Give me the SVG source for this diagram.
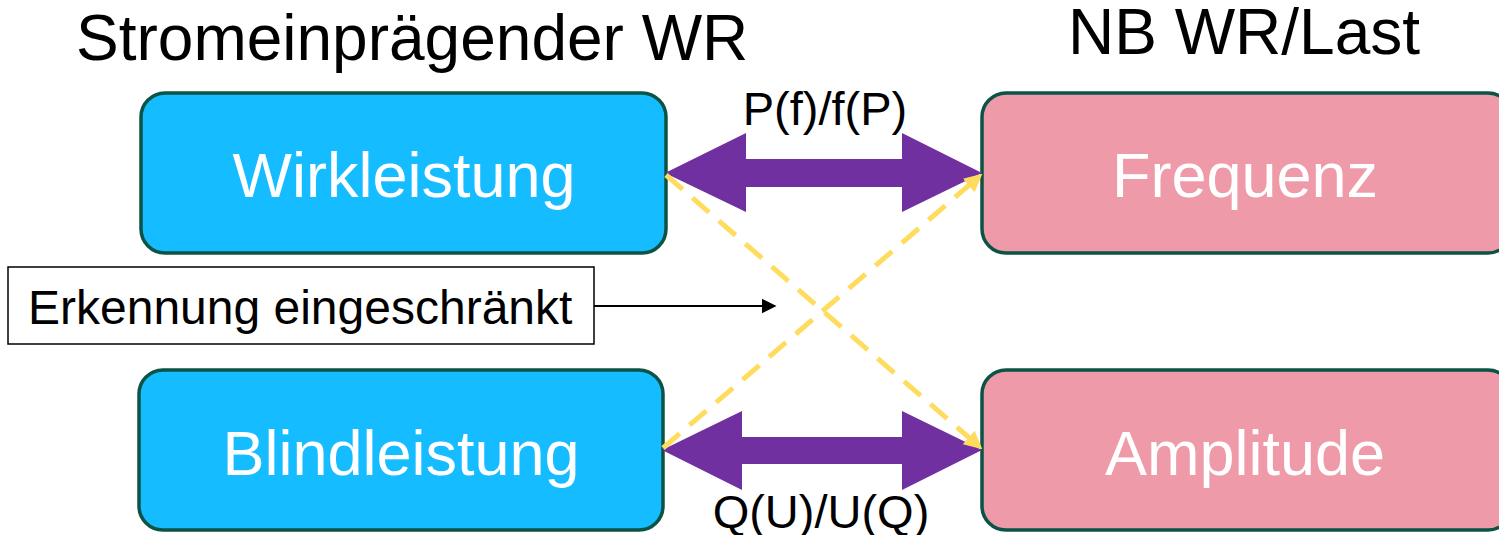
<svg xmlns="http://www.w3.org/2000/svg" width="1499" height="535" viewBox="0 0 1499 535">
<style>
text{font-family:"Liberation Sans",Arial,sans-serif}
.title{font-size:64px;fill:#000}
.nodetxt{font-size:63px;fill:#fff;text-anchor:middle}
.lbl{font-size:47px;fill:#000;text-anchor:middle}
.blue{fill:#15BCFF;stroke:#0B5345;stroke-width:3.5}
.pink{fill:#EE9AA8;stroke:#0B5345;stroke-width:3.5}
.dash{stroke:#FFDC5E;stroke-width:5;stroke-dasharray:22 13;fill:none}
.dbl{fill:#7030A0}
</style>
<defs>
<marker id="ya" viewBox="0 0 10 10" refX="9" refY="5" markerWidth="3.6" markerHeight="3.6" orient="auto" markerUnits="strokeWidth">
<path d="M0,0 L10,5 L0,10 z" fill="#FFDC5E"/>
</marker>
<marker id="ba" viewBox="0 0 10 10" refX="9" refY="5" markerWidth="7.5" markerHeight="7.5" orient="auto" markerUnits="strokeWidth">
<path d="M0,0 L10,5 L0,10 z" fill="#000"/>
</marker>
</defs>
<text class="title" x="76" y="60">Stromeinprägender WR</text>
<text class="title" x="1068" y="54">NB WR/Last</text>
<g id="wirkleistung">
<rect class="blue" x="141" y="93" width="525" height="160" rx="24"/>
<text class="nodetxt" x="404" y="197">Wirkleistung</text>
</g>
<g id="blindleistung">
<rect class="blue" x="139" y="370" width="524" height="160" rx="24"/>
<text class="nodetxt" x="401" y="475">Blindleistung</text>
</g>
<g id="frequenz">
<rect class="pink" x="982" y="93" width="530" height="160" rx="24"/>
<text class="nodetxt" x="1245" y="197">Frequenz</text>
</g>
<g id="amplitude">
<rect class="pink" x="982" y="370" width="530" height="160" rx="24"/>
<text class="nodetxt" x="1245" y="475">Amplitude</text>
</g>
<g id="erkennung">
<rect x="8" y="267" width="586" height="77" fill="#fff" stroke="#000" stroke-width="1.5"/>
<text x="28" y="324" style="font-size:48px;fill:#000">Erkennung eingeschränkt</text>
</g>
<g id="connectors">
<path class="dbl" d="M665,173 L746,133 L746,159 L902,159 L902,133 L982,173 L902,212 L902,187 L746,187 L746,212 Z"/>
<path class="dbl" d="M662,450 L742,411 L742,437 L902,437 L902,411 L982,450 L902,490 L902,464 L742,464 L742,490 Z"/>
<line class="dash" x1="666" y1="175" x2="981" y2="448" marker-end="url(#ya)"/>
<line class="dash" x1="663" y1="448" x2="981" y2="175" marker-end="url(#ya)"/>
<line x1="594" y1="306" x2="775" y2="306" stroke="#000" stroke-width="2" marker-end="url(#ba)"/>
<text class="lbl" x="825" y="125">P(f)/f(P)</text>
<text class="lbl" x="821" y="528">Q(U)/U(Q)</text>
</g>
</svg>
